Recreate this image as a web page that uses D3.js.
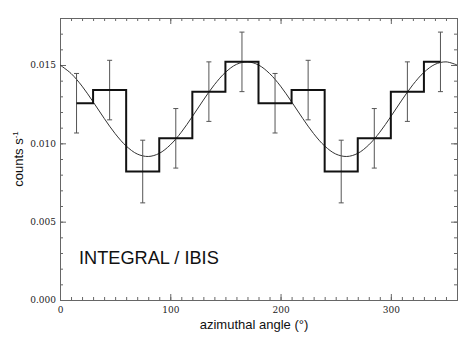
<!DOCTYPE html>
<html>
<head>
<meta charset="utf-8">
<script src="https://cdn.jsdelivr.net/npm/d3@7"></script>
<style>
  body { margin: 0; background: #fff; }
  svg { display: block; }
</style>
</head>
<body>
<svg id="chart"></svg>
<script>
// azimuthal bins (bin centres, degrees)
const angles = [15, 45, 75, 105, 135, 165, 195, 225, 255, 285, 315, 345]
const counts = [0.01256, 0.0134, 0.0082, 0.01032, 0.0133, 0.0152, 0.01256, 0.0134, 0.0082, 0.01032, 0.0133, 0.0152]
const errors = [0.0019, 0.0019, 0.0020, 0.0019, 0.0019, 0.0019, 0.0019, 0.0019, 0.0020, 0.0019, 0.0019, 0.0019]

const modelAngles = [0, 10, 20, 30, 40, 50, 60, 70, 80, 90, 100, 110, 120, 130, 140, 150, 160, 170, 180,
    190, 200, 210, 220, 230, 240, 250, 260, 270, 280, 290, 300, 310, 320, 330, 340, 350, 360]
const modelCounts = [0.01500, 0.01446, 0.01365, 0.01265, 0.01160, 0.01062, 0.00983, 0.00932, 0.00916, 0.00936,
    0.00990, 0.01071, 0.01171, 0.01276, 0.01374, 0.01453, 0.01504, 0.01520, 0.01500,
    0.01446, 0.01365, 0.01265, 0.01160, 0.01062, 0.00983, 0.00932, 0.00916, 0.00936,
    0.00990, 0.01071, 0.01171, 0.01276, 0.01374, 0.01453, 0.01504, 0.01520, 0.01500]

const xTicks = [0, 100, 200, 300]
const xMinor = d3.range(0, 361, 10)
const yTicks = [0, 0.005, 0.010, 0.015]
const yMinor = d3.range(0, 0.0181, 0.001)

const w = 474, h = 338
const pLeft = 60, pRight = 457, pTop = 18, pBottom = 300

const svg = d3.select('#chart')
    .attr('width', w)
    .attr('height', h)

const x = d3.scaleLinear().domain([0, 360]).range([pLeft, pRight])
const y = d3.scaleLinear().domain([0, 0.018]).range([pBottom, pTop])

const axisColor = '#666'
const labelFont = '"DejaVu Serif", serif'
const titleFont = '"Liberation Sans", Arial, sans-serif'

//axes: minor ticks first, then majors with labels
function styleAxis(g) {
    g.select('.domain').attr('stroke', axisColor)
    g.selectAll('.tick line').attr('stroke', axisColor)
    g.selectAll('.tick text')
        .attr('fill', '#222')
        .attr('font-family', labelFont)
        .attr('font-size', '9px')
}

svg.append('g')
    .attr('transform', 'translate(0,' + pBottom + ')')
    .call(d3.axisBottom(x).tickValues(xMinor).tickSize(-3).tickFormat(''))
    .call(styleAxis)
svg.append('g')
    .attr('transform', 'translate(0,' + pBottom + ')')
    .call(d3.axisBottom(x).tickValues(xTicks).tickSizeInner(-6).tickSizeOuter(0).tickPadding(7).tickFormat(d3.format('d')))
    .call(styleAxis)

svg.append('g')
    .attr('transform', 'translate(0,' + pTop + ')')
    .call(d3.axisTop(x).tickValues(xMinor).tickSize(-3).tickFormat(''))
    .call(styleAxis)
svg.append('g')
    .attr('transform', 'translate(0,' + pTop + ')')
    .call(d3.axisTop(x).tickValues(xTicks).tickSizeInner(-6).tickSizeOuter(0).tickFormat(''))
    .call(styleAxis)

svg.append('g')
    .attr('transform', 'translate(' + pLeft + ',0)')
    .call(d3.axisLeft(y).tickValues(yMinor).tickSize(-3).tickFormat(''))
    .call(styleAxis)
svg.append('g')
    .attr('transform', 'translate(' + pLeft + ',0)')
    .call(d3.axisLeft(y).tickValues(yTicks).tickSizeInner(-6).tickSizeOuter(0).tickPadding(4).tickFormat(d3.format('.3f')))
    .call(styleAxis)

svg.append('g')
    .attr('transform', 'translate(' + pRight + ',0)')
    .call(d3.axisRight(y).tickValues(yMinor).tickSize(-3).tickFormat(''))
    .call(styleAxis)
svg.append('g')
    .attr('transform', 'translate(' + pRight + ',0)')
    .call(d3.axisRight(y).tickValues(yTicks).tickSizeInner(-6).tickSizeOuter(0).tickFormat(''))
    .call(styleAxis)

//model curve
svg.append('path')
    .datum(modelAngles.map((a, i) => [a, modelCounts[i]]))
    .attr('fill', 'none')
    .attr('stroke', '#333')
    .attr('stroke-width', 1)
    .attr('d', d3.line().x(d => x(d[0])).y(d => y(d[1])).curve(d3.curveCatmullRom))

//error bars
const bars = svg.append('g')
    .attr('stroke', '#555')
    .attr('stroke-width', 1)

bars.selectAll('line.err')
    .data(angles)
    .enter()
    .append('line')
    .attr('class', 'err')
    .attr('x1', d => x(d))
    .attr('x2', d => x(d))
    .attr('y1', (d, i) => y(counts[i] + errors[i]))
    .attr('y2', (d, i) => y(counts[i] - errors[i]))

bars.selectAll('line.capTop')
    .data(angles)
    .enter()
    .append('line')
    .attr('x1', d => x(d) - 2.5)
    .attr('x2', d => x(d) + 2.5)
    .attr('y1', (d, i) => y(counts[i] + errors[i]))
    .attr('y2', (d, i) => y(counts[i] + errors[i]))

bars.selectAll('line.capBottom')
    .data(angles)
    .enter()
    .append('line')
    .attr('x1', d => x(d) - 2.5)
    .attr('x2', d => x(d) + 2.5)
    .attr('y1', (d, i) => y(counts[i] - errors[i]))
    .attr('y2', (d, i) => y(counts[i] - errors[i]))

//histogram steps
svg.append('path')
    .datum(angles.map((a, i) => [a, counts[i]]))
    .attr('fill', 'none')
    .attr('stroke', '#111')
    .attr('stroke-width', 2)
    .attr('d', d3.line().x(d => x(d[0])).y(d => y(d[1])).curve(d3.curveStep))

//titles
svg.append('text')
    .attr('x', 254)
    .attr('y', 329)
    .attr('text-anchor', 'middle')
    .attr('font-family', titleFont)
    .attr('font-size', '13px')
    .attr('fill', '#111')
    .text('azimuthal angle (°)')

const yTitle = svg.append('text')
    .attr('transform', 'translate(23,' + ((pTop + pBottom) / 2) + ') rotate(-90)')
    .attr('text-anchor', 'middle')
    .attr('font-family', titleFont)
    .attr('font-size', '13px')
    .attr('fill', '#111')
yTitle.append('tspan').text('counts s')
yTitle.append('tspan')
    .attr('font-size', '8px')
    .attr('dy', -5)
    .text('-1')

svg.append('text')
    .attr('x', 79)
    .attr('y', 264)
    .attr('font-family', titleFont)
    .attr('font-size', '18.2px')
    .attr('fill', '#111')
    .text('INTEGRAL / IBIS')
</script>
</body>
</html>
